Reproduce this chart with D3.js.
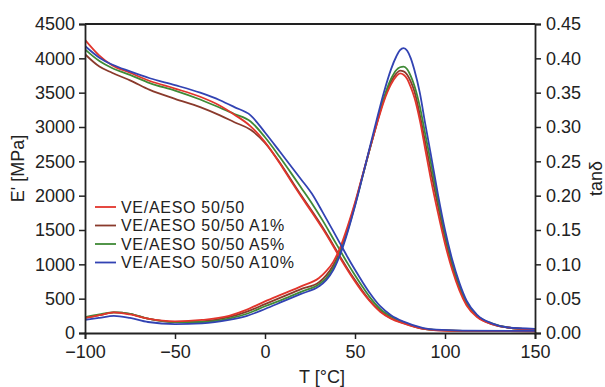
<!DOCTYPE html>
<html>
<head>
<meta charset="utf-8">
<script src="https://cdn.jsdelivr.net/npm/d3@7"></script>
<style>
  body { margin: 0; background: #fff; }
  text { font-family: "Liberation Sans", Arial, sans-serif; }
</style>
</head>
<body>
<div id="chart"></div>
<script>
// series names + colours
var seriesNames = ["VE/AESO 50/50", "VE/AESO 50/50 A1%", "VE/AESO 50/50 A5%", "VE/AESO 50/50 A10%"];
var seriesColors = ["#e2352c", "#8a3a2c", "#3f8a36", "#3243b3"];

// storage modulus E' [MPa]
var tempsE = [-100, -92, -85, -75, -64, -50, -36, -25, -17, -8, 0, 8, 15, 20, 26, 32, 38, 42, 46, 50, 54, 58, 64, 70, 77, 88, 95, 110, 150];
var eRed   = [4270, 4040, 3900, 3790, 3670, 3560, 3440, 3310, 3180, 3010, 2780, 2480, 2190, 1990, 1760, 1520, 1260, 1080, 910, 750, 600, 470, 310, 210, 140, 60, 40, 30, 25];
var eBrown = [4060, 3880, 3790, 3680, 3540, 3410, 3290, 3170, 3070, 2960, 2770, 2490, 2210, 2010, 1780, 1540, 1280, 1100, 930, 770, 620, 480, 320, 215, 145, 62, 42, 30, 25];
var eGreen = [4130, 3960, 3860, 3760, 3640, 3530, 3400, 3280, 3190, 3080, 2850, 2570, 2310, 2120, 1890, 1640, 1370, 1190, 1010, 840, 680, 530, 350, 240, 155, 65, 45, 32, 28];
var eBlue  = [4180, 4010, 3910, 3810, 3710, 3610, 3500, 3390, 3290, 3170, 2920, 2650, 2410, 2240, 2030, 1760, 1480, 1290, 1100, 920, 750, 590, 390, 260, 165, 72, 48, 35, 30];

// tan delta
var tempsT = [-100, -92, -84, -75, -65, -50, -35, -20, -10, 0, 10, 20, 30, 34, 38, 42, 46, 50, 54, 58, 62, 66, 70, 73, 75, 77, 79, 81, 83, 86, 89, 92, 96, 100, 104, 108, 112, 118, 126, 135, 150];
var tRed   = [0.022, 0.026, 0.030, 0.027, 0.021, 0.017, 0.019, 0.025, 0.034, 0.046, 0.057, 0.068, 0.080, 0.090, 0.104, 0.126, 0.156, 0.190, 0.228, 0.266, 0.303, 0.337, 0.362, 0.374, 0.378, 0.376, 0.370, 0.358, 0.343, 0.310, 0.268, 0.226, 0.176, 0.130, 0.092, 0.062, 0.040, 0.023, 0.013, 0.008, 0.005];
var tBrown = [0.022, 0.026, 0.030, 0.028, 0.021, 0.016, 0.017, 0.023, 0.031, 0.042, 0.053, 0.064, 0.074, 0.084, 0.099, 0.122, 0.153, 0.188, 0.227, 0.266, 0.304, 0.340, 0.366, 0.378, 0.382, 0.381, 0.376, 0.366, 0.352, 0.318, 0.278, 0.238, 0.186, 0.138, 0.098, 0.066, 0.043, 0.024, 0.013, 0.008, 0.005];
var tGreen = [0.023, 0.027, 0.030, 0.028, 0.021, 0.016, 0.016, 0.021, 0.028, 0.039, 0.049, 0.060, 0.071, 0.080, 0.095, 0.119, 0.150, 0.186, 0.226, 0.266, 0.305, 0.342, 0.370, 0.383, 0.387, 0.388, 0.384, 0.374, 0.360, 0.330, 0.290, 0.250, 0.195, 0.145, 0.103, 0.070, 0.045, 0.025, 0.014, 0.008, 0.005];
var tBlue  = [0.019, 0.022, 0.025, 0.022, 0.016, 0.013, 0.014, 0.019, 0.025, 0.035, 0.046, 0.057, 0.068, 0.077, 0.092, 0.116, 0.148, 0.185, 0.226, 0.268, 0.310, 0.350, 0.384, 0.403, 0.412, 0.415, 0.411, 0.400, 0.383, 0.350, 0.305, 0.262, 0.203, 0.150, 0.107, 0.073, 0.047, 0.026, 0.014, 0.008, 0.006];

var xTicks = [-100, -50, 0, 50, 100, 150];
var eTicks = [0, 500, 1000, 1500, 2000, 2500, 3000, 3500, 4000, 4500];
var tTicks = [0, 0.05, 0.10, 0.15, 0.20, 0.25, 0.30, 0.35, 0.40, 0.45];

var W = 605, H = 387;
var margin = {top: 24, right: 70, bottom: 54, left: 85},
    width = W - margin.left - margin.right,
    height = H - margin.top - margin.bottom;

var svg = d3.select("#chart")
  .append("svg")
  .attr("width", W)
  .attr("height", H)
  .append("g")
  .attr("transform", "translate(" + margin.left + "," + margin.top + ")");

var x = d3.scaleLinear().domain([-100, 150]).range([0, width]);
var yE = d3.scaleLinear().domain([0, 4500]).range([height, 0]);
var yT = d3.scaleLinear().domain([0, 0.45]).range([height, 0]);

function zipData(xs, ys) {
  return xs.map(function(t, i) { return {t: t, v: ys[i]}; });
}

var eSeries = [eRed, eBrown, eGreen, eBlue];
var tSeries = [tRed, tBrown, tGreen, tBlue];

svg.append("clipPath").attr("id", "clip")
  .append("rect").attr("x", 0).attr("y", -2).attr("width", width).attr("height", height + 2);
var plot = svg.append("g")
  .attr("clip-path", "url(#clip)");

var lineE = d3.line().x(d => x(d.t)).y(d => yE(d.v)).curve(d3.curveMonotoneX);
var lineT = d3.line().x(d => x(d.t)).y(d => yT(d.v)).curve(d3.curveMonotoneX);

// draw order: brown, green, red, blue like the figure
var order = [1, 2, 0, 3];
order.forEach(function(i) {
  plot.append("path")
    .datum(zipData(tempsE, eSeries[i]))
    .attr("fill", "none")
    .attr("stroke", seriesColors[i])
    .attr("stroke-width", 1.8)
    .attr("d", lineE);
  plot.append("path")
    .datum(zipData(tempsT, tSeries[i]))
    .attr("fill", "none")
    .attr("stroke", seriesColors[i])
    .attr("stroke-width", 1.8)
    .attr("d", lineT);
});

// axes
var fmtT = d3.format(".2f");
var xAxis = svg.append("g")
  .attr("transform", "translate(0," + height + ")")
  .call(d3.axisBottom(x).tickValues(xTicks).tickSize(6).tickPadding(6));
var leftAxis = svg.append("g")
  .call(d3.axisLeft(yE).tickValues(eTicks).tickSize(6).tickPadding(4).tickFormat(d3.format("d")));
var rightAxis = svg.append("g")
  .attr("transform", "translate(" + width + ",0)")
  .call(d3.axisRight(yT).tickValues(tTicks).tickSize(6).tickPadding(5).tickFormat(fmtT));

[xAxis, leftAxis, rightAxis].forEach(function(a) {
  a.selectAll("text").style("font-size", "18px").attr("fill", "#222");
  a.selectAll("line").attr("stroke", "#222").attr("stroke-width", 1.5);
  a.select(".domain").attr("stroke", "#222").attr("stroke-width", 1.8);
});

// top frame line
svg.append("line")
  .attr("x1", 0).attr("x2", width)
  .attr("y1", 0).attr("y2", 0)
  .attr("stroke", "#222").attr("stroke-width", 1.8);

// axis titles
svg.append("text")
  .attr("transform", "translate(" + (-margin.left + 24) + "," + (height / 2 - 10) + ") rotate(-90)")
  .attr("text-anchor", "middle")
  .style("font-size", "18px")
  .attr("fill", "#222")
  .text("E' [MPa]");

svg.append("text")
  .attr("x", width / 2 + 12)
  .attr("y", height + 50)
  .attr("text-anchor", "middle")
  .style("font-size", "18px")
  .attr("fill", "#222")
  .text("T [°C]");

svg.append("text")
  .attr("transform", "translate(" + (width + 67) + "," + (height / 2) + ") rotate(-90)")
  .attr("text-anchor", "middle")
  .style("font-size", "18px")
  .attr("fill", "#222")
  .text("tanδ");

// legend
var legend = svg.append("g")
  .attr("transform", "translate(10," + 183 + ")");
seriesNames.forEach(function(name, i) {
  var row = legend.append("g").attr("transform", "translate(0," + (i * 18.5) + ")");
  row.append("line")
    .attr("x1", 0).attr("x2", 21)
    .attr("y1", 0).attr("y2", 0)
    .attr("stroke", seriesColors[i])
    .attr("stroke-width", 1.8);
  row.append("text")
    .attr("x", 26)
    .attr("y", 0)
    .attr("dy", "0.36em")
    .style("font-size", "16px")
    .style("letter-spacing", "0.7px")
    .attr("fill", "#222")
    .text(name);
});
</script>
</body>
</html>
